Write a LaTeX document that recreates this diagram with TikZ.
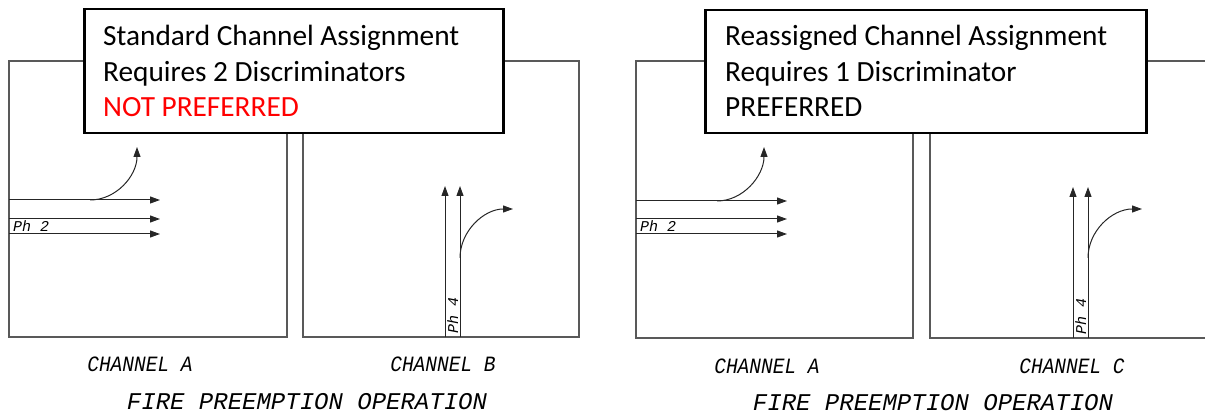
\documentclass[tikz,border=0pt]{standalone}
\usepackage{fontspec}
\setmainfont{Carlito}
\newfontfamily\cadfont{Liberation Mono}
\usetikzlibrary{arrows.meta}

\begin{document}
\begin{tikzpicture}[x=1pt,y=-1pt,>={Triangle[length=10pt,width=7pt]},
		frame/.style={draw=black!65, line width=1.1pt},
		lane/.style={draw=black!85, line width=1pt},
		callout/.style={draw, fill=white, line width=2.5pt, anchor=north west, inner sep=0pt},
		calltext/.style={font=\fontsize{29.3}{34}\selectfont, anchor=base west, inner sep=0pt},
		cad/.style={font=\cadfont\itshape\fontsize{19.5}{20}\selectfont, inner sep=0pt, yscale=1.12},
		cadbig/.style={font=\cadfont\itshape\fontsize{24}{26}\selectfont, inner sep=0pt},
		phase/.style={font=\cadfont\itshape\fontsize{15}{16}\selectfont, inner sep=0pt, anchor=base west}]
	\useasboundingbox (0,0) rectangle (1205,414);

	\draw[frame] (9,61) rectangle (287,337);
	\draw[frame] (303,61) rectangle (579,337);
	\draw[frame] (636,61) rectangle (913,338);
	\draw[frame] (1205,61) -- (930,61) -- (930,338) -- (1205,338);

	\coordinate (la1) at (9,200);
	\coordinate (la2) at (9,219);
	\coordinate (la3) at (9,234);
	\draw[lane,->] (la1) -- (160,200);
	\draw[lane,->] (la2) -- (160,219);
	\draw[lane,->] (la3) -- (160,234);
	\draw[lane,->] (90,200) .. controls (116,200) and (137,176) .. (137,147);
	\node[phase] (ph2l) at (13,232) {Ph 2};

	\coordinate (lb1) at (445,337);
	\coordinate (lb2) at (460,337);
	\draw[lane,->] (lb1) -- (445,186);
	\draw[lane,->] (lb2) -- (460,186);
	\draw[lane,->] (460,258) .. controls (460,231) and (484,209) .. (513,209);
	\node[phase, rotate=90] (ph4l) at (458,334) {Ph 4};

	\coordinate (ra1) at (636,201);
	\coordinate (ra2) at (636,219);
	\coordinate (ra3) at (636,234);
	\draw[lane,->] (ra1) -- (787,201);
	\draw[lane,->] (ra2) -- (787,219);
	\draw[lane,->] (ra3) -- (787,234);
	\draw[lane,->] (717,201) .. controls (743,201) and (764,176) .. (764,147);
	\node[phase] (ph2r) at (640,232) {Ph 2};

	\coordinate (rc1) at (1073,338);
	\coordinate (rc2) at (1088,338);
	\draw[lane,->] (rc1) -- (1073,187);
	\draw[lane,->] (rc2) -- (1088,187);
	\draw[lane,->] (1088,258) .. controls (1088,231) and (1112,209) .. (1142,209);
	\node[phase, rotate=90] (ph4r) at (1086,335) {Ph 4};

	\node[callout, minimum width=419pt, minimum height=124pt] (stdbox) at (83,8) {};
	\node[calltext] (std1) at (103,46) {Standard Channel Assignment};
	\node[calltext] (std2) at (103,82) {Requires 2 Discriminators};
	\node[calltext, text=red] (std3) at (103,117) {NOT PREFERRED};

	\node[callout, minimum width=441pt, minimum height=123pt] (reabox) at (704,9) {};
	\node[calltext] (rea1) at (725,46) {Reassigned Channel Assignment};
	\node[calltext] (rea2) at (725,82) {Requires 1 Discriminator};
	\node[calltext] (rea3) at (725,117) {PREFERRED};

	\node[cad] (chla) at (140,364) {CHANNEL A};
	\node[cad] (chlb) at (443,364) {CHANNEL B};
	\node[cad] (chra) at (767,366) {CHANNEL A};
	\node[cad] (chrc) at (1072,366) {CHANNEL C};
	\node[cadbig] (firel) at (307,402) {FIRE PREEMPTION OPERATION};
	\node[cadbig] (firer) at (933,403) {FIRE PREEMPTION OPERATION};
\end{tikzpicture}
\end{document}
